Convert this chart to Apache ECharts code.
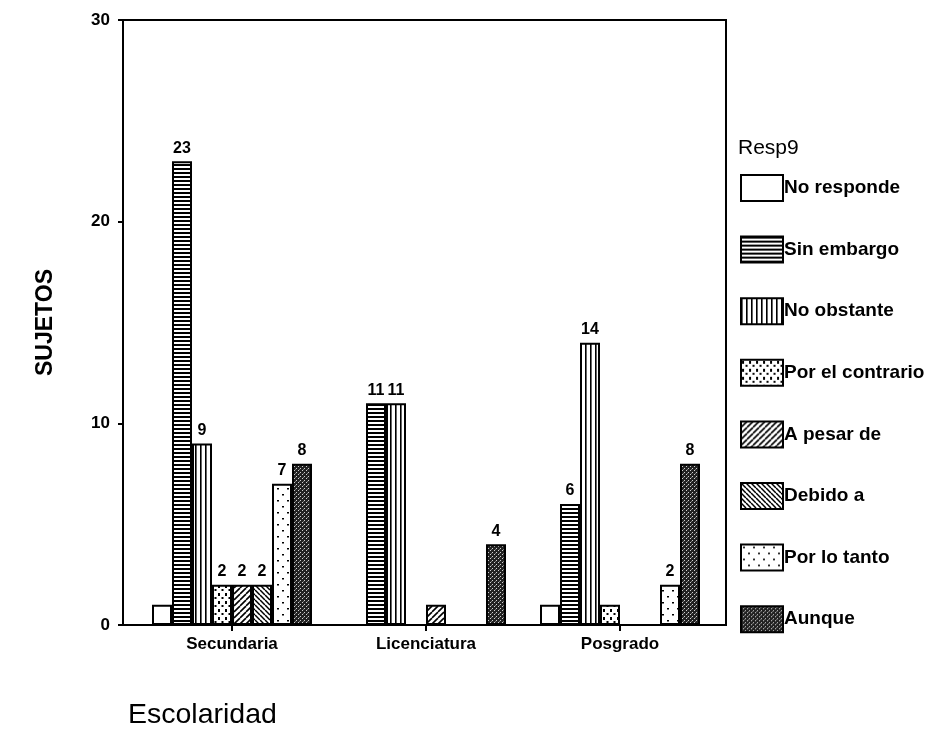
<!DOCTYPE html>
<html>
<head>
<meta charset="utf-8">
<script src="https://cdn.jsdelivr.net/npm/echarts@6/dist/echarts.min.js"></script>
<style>
html,body{margin:0;padding:0;background:#fff;}
#chart{width:940px;height:729px;}
</style>
</head>
<body>
<div id="chart"></div>
<script>
// ---- data ----
var categories = ['Secundaria', 'Licenciatura', 'Posgrado'];
var seriesNames = ['No responde', 'Sin embargo', 'No obstante', 'Por el contrario', 'A pesar de', 'Debido a', 'Por lo tanto', 'Aunque'];
var noResponde     = [1, 0, 1];
var sinEmbargo     = [23, 11, 6];
var noObstante     = [9, 11, 14];
var porElContrario = [2, 0, 1];
var aPesarDe       = [2, 1, 0];
var debidoA        = [2, 0, 0];
var porLoTanto     = [7, 0, 2];
var aunque         = [8, 4, 8];
var yTicks = [0, 10, 20, 30];
var allValues = [noResponde, sinEmbargo, noObstante, porElContrario, aPesarDe, debidoA, porLoTanto, aunque];

// ---- patterns ----
function tile(w, h, draw) {
  var c = document.createElement('canvas');
  c.width = w; c.height = h;
  var ctx = c.getContext('2d');
  ctx.fillStyle = '#fff';
  ctx.fillRect(0, 0, w, h);
  ctx.fillStyle = '#000';
  ctx.strokeStyle = '#000';
  draw(ctx, w, h);
  return { image: c, repeat: 'repeat' };
}
var patterns = [
  '#ffffff',
  tile(4, 4, function (ctx) { ctx.fillRect(0, 0, 4, 2); }),
  tile(5, 5, function (ctx) { ctx.fillRect(0, 0, 1.6, 5); }),
  tile(7, 8, function (ctx) { ctx.fillRect(1, 1, 2, 3); ctx.fillRect(4.5, 5, 2, 2); }),
  tile(6, 6, function (ctx, w, h) {
    ctx.lineWidth = 1.6;
    for (var k = -1; k <= 1; k++) { ctx.beginPath(); ctx.moveTo(k * w, h); ctx.lineTo(k * w + w, 0); ctx.stroke(); }
  }),
  tile(5, 5, function (ctx, w, h) {
    ctx.lineWidth = 1.5;
    for (var k = -1; k <= 1; k++) { ctx.beginPath(); ctx.moveTo(k * w, 0); ctx.lineTo(k * w + w, h); ctx.stroke(); }
  }),
  tile(10, 12, function (ctx) { ctx.fillRect(2, 2, 2, 1.5); ctx.fillRect(7, 8, 2, 1.5); }),
  tile(4, 4, function (ctx) {
    ctx.fillStyle = '#222'; ctx.fillRect(0, 0, 4, 4);
    ctx.fillStyle = '#d0d0d0'; ctx.fillRect(0, 0, 1, 1); ctx.fillRect(2, 2, 1, 1);
    ctx.fillStyle = '#777'; ctx.fillRect(3, 1, 1, 1);
  })
];

var font = 'Liberation Sans, Arial, sans-serif';

var series = seriesNames.map(function (name, i) {
  return {
    name: name,
    type: 'bar',
    xAxisIndex: 1,
    yAxisIndex: 1,
    barWidth: 20,
    barGap: '0%',
    data: allValues[i],
    itemStyle: { color: patterns[i], borderColor: '#000', borderWidth: 2 },
    label: {
      show: true,
      position: 'top',
      distance: 5,
      color: '#000',
      fontFamily: font,
      fontWeight: 'bold',
      fontSize: 16,
      formatter: function (p) { return p.value >= 2 ? String(p.value) : ''; }
    }
  };
});

var chart = echarts.init(document.getElementById('chart'), null, { renderer: 'canvas' });
chart.setOption({
  backgroundColor: '#fff',
  animation: false,
  title: [
    { text: 'Escolaridad', left: 123, top: 696, textStyle: { fontFamily: font, fontSize: 28.5, fontWeight: 'normal', color: '#000' } },
    { text: 'Resp9', left: 733, top: 133, textStyle: { fontFamily: font, fontSize: 21, fontWeight: 'normal', color: '#000' } }
  ],
  legend: {
    orient: 'vertical',
    left: 735,
    top: 169,
    itemWidth: 42,
    itemHeight: 26,
    itemGap: 33.6,
    icon: 'rect',
    textStyle: { fontFamily: font, fontSize: 19, fontWeight: 'bold', color: '#000', padding: [0, 0, 0, -4] },
    data: seriesNames
  },
  grid: [
    { left: 123, top: 20, width: 603, height: 605, show: true, borderColor: '#000', borderWidth: 2, backgroundColor: 'transparent' },
    { left: 135, top: 20, width: 582, height: 605 }
  ],
  xAxis: [
    { gridIndex: 0, type: 'category', data: categories, show: false },
    {
      gridIndex: 1, type: 'category', data: categories,
      axisLine: { show: false },
      axisTick: { show: true, alignWithLabel: true, length: 6, lineStyle: { color: '#000', width: 2 } },
      axisLabel: { color: '#000', fontFamily: font, fontWeight: 'bold', fontSize: 17, margin: 11 }
    }
  ],
  yAxis: [
    {
      gridIndex: 0, type: 'value', min: 0, max: 30, interval: 10,
      name: 'SUJETOS', nameLocation: 'middle', nameGap: 66, nameRotate: 90,
      nameTextStyle: { fontFamily: font, fontWeight: 'bold', fontSize: 23, color: '#000' },
      axisLine: { show: true, lineStyle: { color: '#000', width: 2 } },
      axisTick: { show: true, length: 5, lineStyle: { color: '#000', width: 2 } },
      axisLabel: { color: '#000', fontFamily: font, fontWeight: 'bold', fontSize: 17, margin: 13,
        formatter: function (v) { return yTicks.indexOf(v) >= 0 ? String(v) : ''; } },
      splitLine: { show: false }
    },
    { gridIndex: 1, type: 'value', min: 0, max: 30, interval: 10, show: false, splitLine: { show: false } }
  ],
  series: series
});
</script>
</body>
</html>
